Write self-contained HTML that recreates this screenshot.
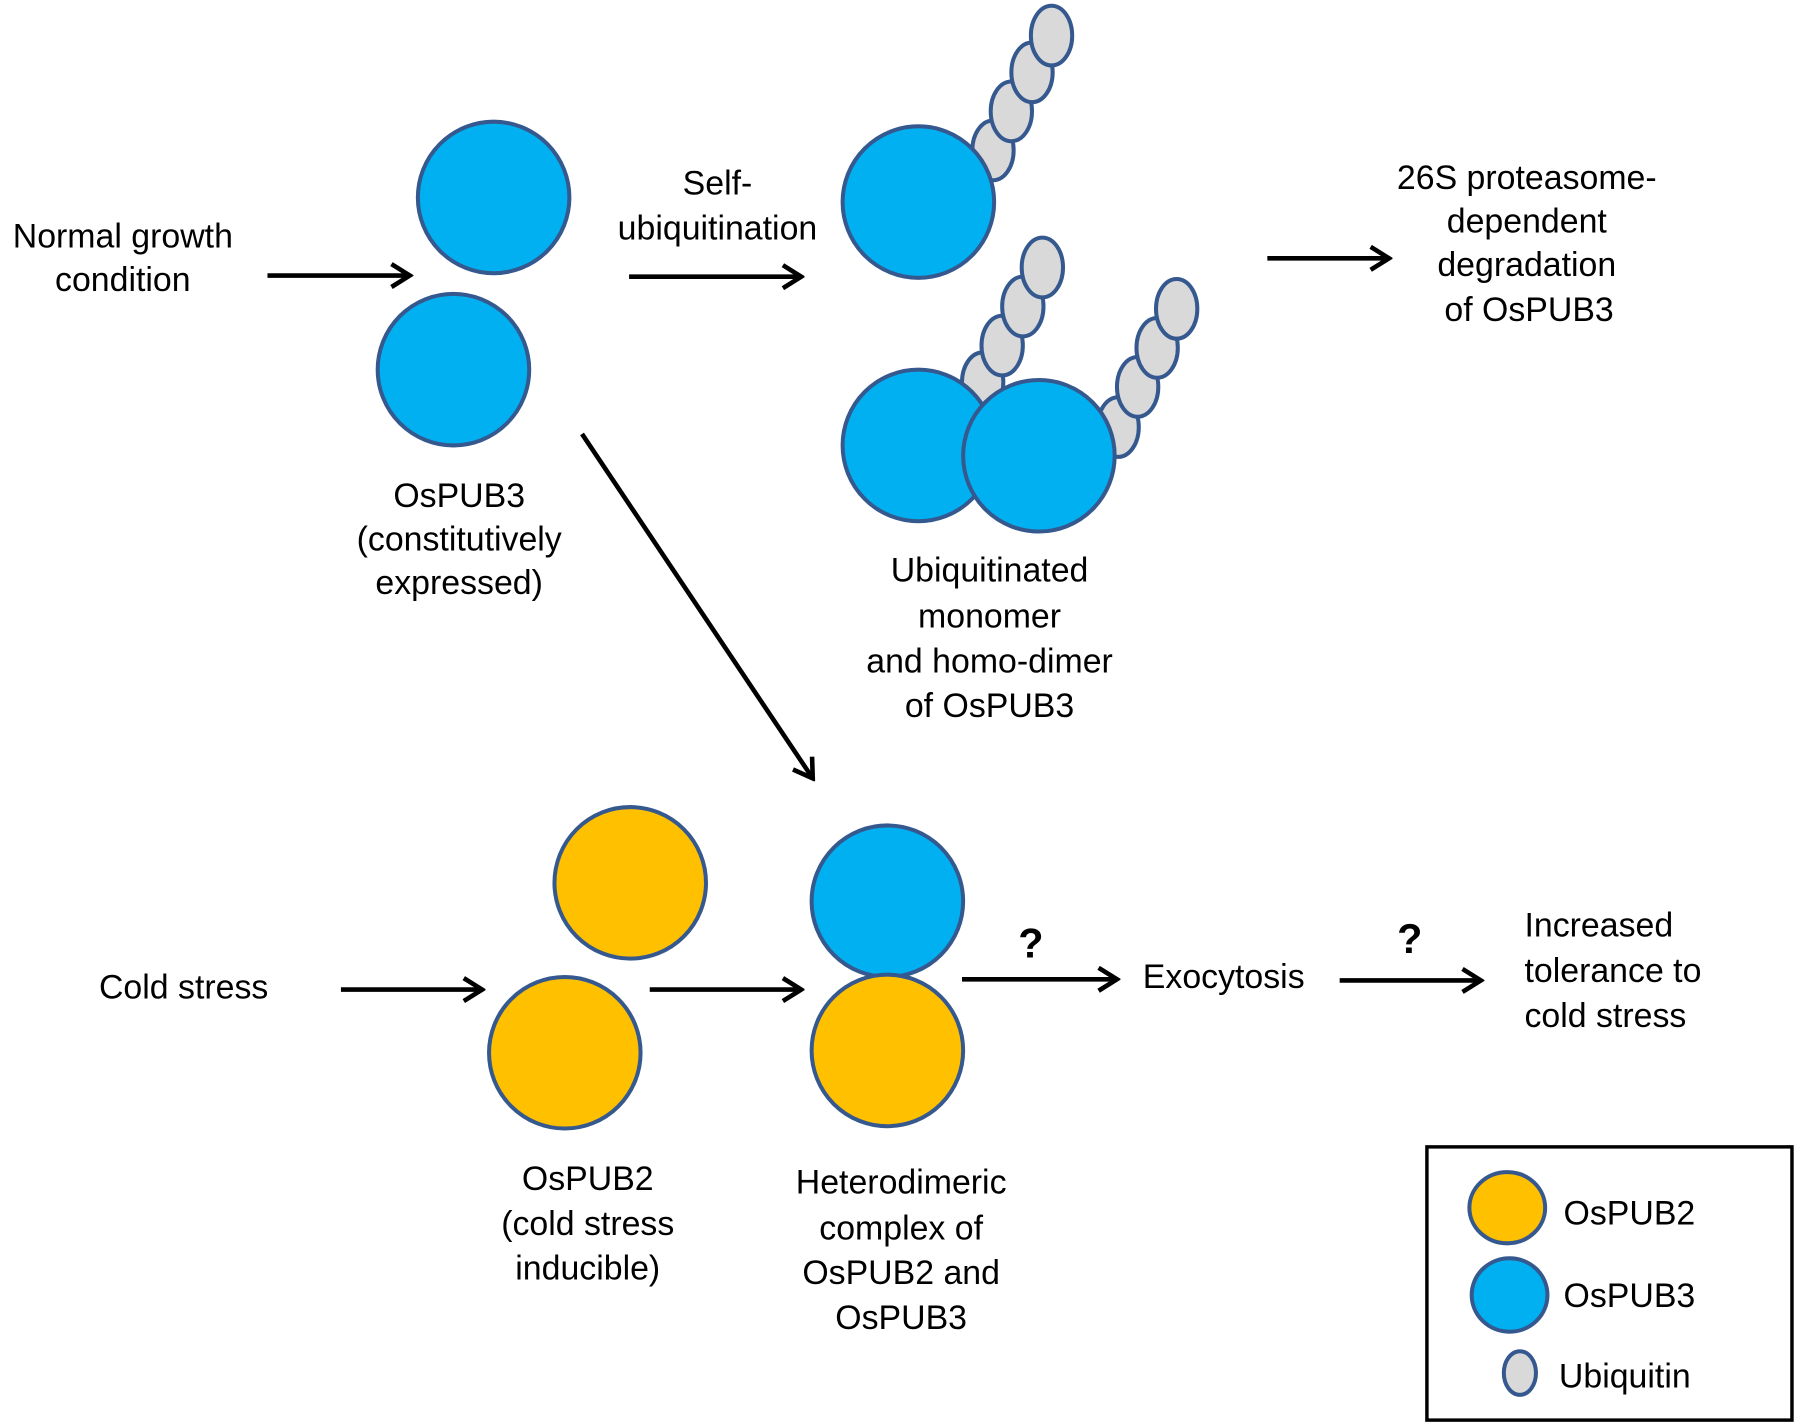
<!DOCTYPE html>
<html><head><meta charset="utf-8"><style>
html,body{margin:0;padding:0;background:#fff;}
svg{display:block;}
text{font-family:"Liberation Sans",Arial,sans-serif;font-size:29.5px;fill:#000;dominant-baseline:central;}
</style></head><body>
<svg width="1800" height="1427" viewBox="0 0 1568 1243" preserveAspectRatio="none" font-family="Liberation Sans, Arial, sans-serif">
<defs>
<marker id="ah" viewBox="0 0 24 24" refX="21" refY="12" markerWidth="24" markerHeight="24" markerUnits="userSpaceOnUse" orient="auto">
<path d="M5,2 L21,12 L5,22" fill="none" stroke="#000" stroke-width="4"/>
</marker>
</defs>
<g stroke="#000" stroke-width="4" marker-end="url(#ah)">
<line x1="233" y1="240" x2="357" y2="240"/>
<line x1="548" y1="241" x2="698" y2="241"/>
<line x1="1104" y1="225" x2="1210" y2="225"/>
<line x1="507" y1="378" x2="708" y2="678"/>
<line x1="297" y1="862" x2="420" y2="862"/>
<line x1="566" y1="862" x2="698" y2="862"/>
<line x1="838" y1="853" x2="973" y2="853"/>
<line x1="1167" y1="854" x2="1290" y2="854"/>
</g>
<g stroke="#35598F" stroke-width="3.5">
<circle cx="430" cy="172" r="66" fill="#00B0F0"/>
<circle cx="395" cy="322" r="66" fill="#00B0F0"/>
<g fill="#D9D9D9">
<ellipse cx="865" cy="131" rx="18" ry="26"/><ellipse cx="881" cy="97" rx="18" ry="26"/><ellipse cx="899" cy="63" rx="18" ry="26"/><ellipse cx="916" cy="31" rx="18" ry="26"/>
<ellipse cx="856" cy="333" rx="18" ry="26"/><ellipse cx="873" cy="301" rx="18" ry="26"/><ellipse cx="891" cy="267" rx="18" ry="26"/><ellipse cx="908" cy="233" rx="18" ry="26"/>
<ellipse cx="974" cy="372" rx="18" ry="26"/><ellipse cx="991" cy="337" rx="18" ry="26"/><ellipse cx="1008" cy="303" rx="18" ry="26"/><ellipse cx="1025" cy="269" rx="18" ry="26"/>
</g>
<circle cx="800" cy="176" r="66" fill="#00B0F0"/>
<circle cx="800" cy="388" r="66" fill="#00B0F0"/>
<circle cx="905" cy="397" r="66" fill="#00B0F0"/>
<circle cx="549" cy="769" r="66" fill="#FFC000"/>
<circle cx="492" cy="917" r="66" fill="#FFC000"/>
<circle cx="773" cy="785" r="66" fill="#00B0F0"/>
<circle cx="773" cy="915" r="66" fill="#FFC000"/>
<ellipse cx="1313" cy="1052" rx="33" ry="31" fill="#FFC000"/>
<ellipse cx="1315" cy="1128" rx="33" ry="32" fill="#00B0F0"/>
<ellipse cx="1324" cy="1196" rx="14" ry="19" fill="#D9D9D9"/>
</g>
<rect x="1243" y="999" width="318" height="238" fill="none" stroke="#000" stroke-width="3"/>
<g text-anchor="middle">
<text x="107" y="206">Normal growth</text><text x="107" y="244">condition</text>
<text x="400" y="432">OsPUB3</text><text x="400" y="470">(constitutively</text><text x="400" y="508">expressed)</text>
<text x="625" y="160">Self-</text><text x="625" y="199">ubiquitination</text>
<text x="862" y="497">Ubiquitinated</text><text x="862" y="537">monomer</text><text x="862" y="576">and homo-dimer</text><text x="862" y="615">of OsPUB3</text>
<text x="1330" y="155">26S proteasome-</text><text x="1330" y="193">dependent</text><text x="1330" y="231">degradation</text><text x="1332" y="270">of OsPUB3</text>
<text x="160" y="860">Cold stress</text>
<text x="512" y="1027">OsPUB2</text><text x="512" y="1066">(cold stress</text><text x="512" y="1105">inducible)</text>
<text x="785" y="1030">Heterodimeric</text><text x="785" y="1070">complex of</text><text x="785" y="1109">OsPUB2 and</text><text x="785" y="1148">OsPUB3</text>
<text x="1066" y="851">Exocytosis</text>
<text x="898" y="822" font-weight="bold" style="font-size:36px">?</text><text x="1228" y="818" font-weight="bold" style="font-size:36px">?</text>
</g>
<text x="1328" y="806">Increased</text><text x="1328" y="846">tolerance to</text><text x="1328" y="885">cold stress</text>
<text x="1362" y="1057">OsPUB2</text><text x="1362" y="1129">OsPUB3</text><text x="1358" y="1199">Ubiquitin</text>
</svg>
</body></html>
